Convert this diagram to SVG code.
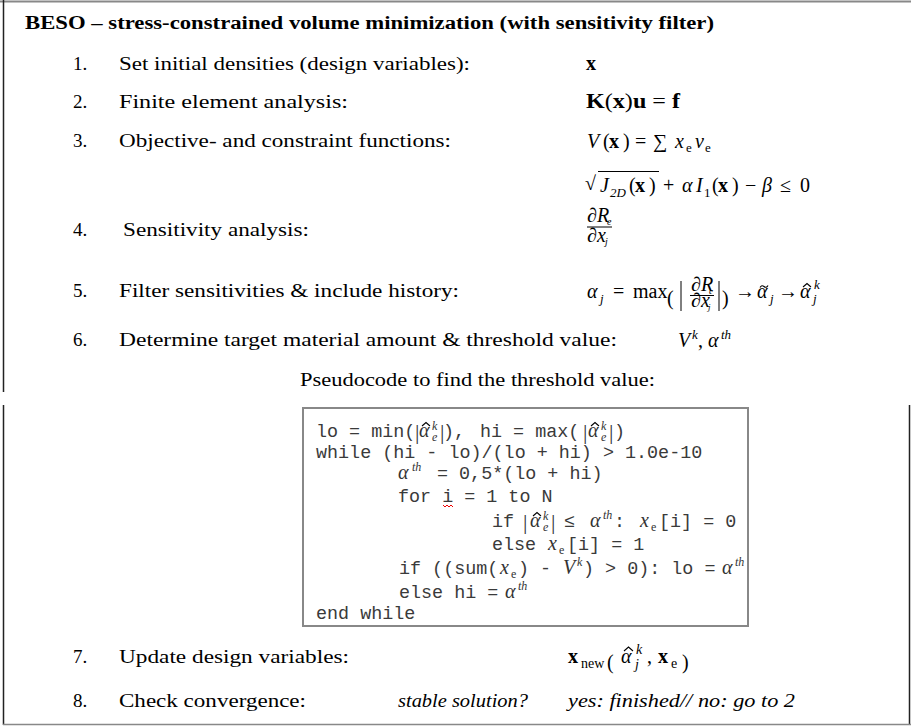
<svg xmlns="http://www.w3.org/2000/svg" width="911" height="727" viewBox="0 0 911 727">
<defs>
<style>
.t{font-family:"Liberation Serif",serif;font-size:19px;fill:#000}
.tb{font-family:"Liberation Serif",serif;font-size:18px;font-weight:bold;fill:#000}
.ti{font-family:"Liberation Serif",serif;font-size:19px;font-style:italic;fill:#000}
.m{font-family:"Liberation Serif","DejaVu Serif",serif;font-size:20px;fill:#000}
.mi{font-style:italic}
.bf{font-weight:bold}
.sub{font-size:13px}
.c{font-family:"Liberation Mono",monospace;font-size:18.4px;fill:#3a3a3a}
.cm{font-family:"Liberation Serif","DejaVu Serif",serif;font-size:20px;fill:#333}
.csub{font-size:12px}
.ln{stroke:#000;stroke-width:1}
.acc{fill:none;stroke:#000;stroke-width:1.1;stroke-linejoin:miter}
</style>
</defs>
<g id="frame" fill="none">
<line x1="0" y1="1.5" x2="911" y2="1.5" stroke="#888" stroke-width="2"/>
<line x1="3.5" y1="0" x2="3.5" y2="392" stroke="#222" stroke-width="1.5"/>
<line x1="3.5" y1="405" x2="3.5" y2="725" stroke="#222" stroke-width="1.5"/>
<line x1="909.5" y1="405" x2="909.5" y2="725" stroke="#222" stroke-width="1.5"/>
<line x1="3" y1="724.5" x2="911" y2="724.5" stroke="#888" stroke-width="1.5"/>
</g>
<g id="title">
<text class="tb" x="25" y="29" textLength="689" lengthAdjust="spacingAndGlyphs">BESO – stress-constrained volume minimization (with sensitivity filter)</text>
</g>
<g id="step1">
<text class="t" x="73" y="70">1.</text>
<text class="t" x="119" y="70" textLength="351" lengthAdjust="spacingAndGlyphs">Set initial densities (design variables):</text>
<text class="m bf" x="586" y="70">x</text>
</g>
<g id="step2">
<text class="t" x="73" y="108">2.</text>
<text class="t" x="119" y="108" textLength="229" lengthAdjust="spacingAndGlyphs">Finite element analysis:</text>
<text class="m" x="586" y="108" textLength="94" lengthAdjust="spacingAndGlyphs"><tspan class="bf">K</tspan>(<tspan class="bf">x</tspan>)<tspan class="bf">u</tspan> = <tspan class="bf">f</tspan></text>
</g>
<g id="step3">
<text class="t" x="73" y="147">3.</text>
<text class="t" x="119" y="147" textLength="332" lengthAdjust="spacingAndGlyphs">Objective- and constraint functions:</text>
<text class="m"><tspan class="mi" x="587" y="148">V</tspan><tspan x="603">(</tspan><tspan class="bf" x="609">x</tspan><tspan x="623">)</tspan><tspan x="635">=</tspan><tspan x="653">∑</tspan><tspan class="mi" x="675">x</tspan><tspan class="sub" x="686" y="152">e</tspan><tspan class="mi" x="695" y="148">v</tspan><tspan class="sub" x="705" y="152">e</tspan></text>
<text class="m" x="585" y="190" font-size="28">√</text>
<line class="ln" x1="598" y1="171.5" x2="659" y2="171.5"/>
<text class="m"><tspan class="mi" x="600" y="192">J</tspan><tspan class="sub mi" x="610" y="197">2D</tspan><tspan x="629" y="192">(</tspan><tspan class="bf" x="635">x</tspan><tspan x="649">)</tspan><tspan x="663">+</tspan><tspan class="mi" x="682">α</tspan><tspan class="mi" x="696">I</tspan><tspan class="sub" x="704" y="197">1</tspan><tspan x="712" y="192">(</tspan><tspan class="bf" x="718">x</tspan><tspan x="732">)</tspan><tspan x="745">−</tspan><tspan class="mi" x="762">β</tspan><tspan x="780">≤</tspan><tspan x="800">0</tspan></text>
</g>
<g id="step4">
<text class="t" x="73" y="236">4.</text>
<text class="t" x="123" y="236" textLength="186" lengthAdjust="spacingAndGlyphs">Sensitivity analysis:</text>
<text class="m" font-size="14"><tspan class="mi" x="587" y="222">∂R</tspan><tspan class="mi" x="607" y="225" font-size="10">e</tspan></text>
<line class="ln" x1="587" y1="227" x2="612" y2="227"/>
<text class="m" font-size="14"><tspan class="mi" x="587" y="242">∂x</tspan><tspan class="mi" x="605" y="245" font-size="10">j</tspan></text>
</g>
<g id="step5">
<text class="t" x="73" y="297">5.</text>
<text class="t" x="119" y="297" textLength="340" lengthAdjust="spacingAndGlyphs">Filter sensitivities &amp; include history:</text>
<text class="m"><tspan class="mi" x="587" y="298">α</tspan><tspan class="sub mi" x="600" y="303">j</tspan><tspan x="613" y="298">=</tspan><tspan x="633">max</tspan></text>
<text class="m" x="667" y="305" font-size="36">(</text>
<line class="ln" x1="681" y1="281" x2="681" y2="311" stroke-width="1.3"/>
<text class="m" font-size="13"><tspan class="mi" x="691" y="291">∂R</tspan><tspan class="mi" x="709" y="294" font-size="9">e</tspan></text>
<line class="ln" x1="690" y1="295.5" x2="714" y2="295.5"/>
<text class="m" font-size="13"><tspan class="mi" x="691" y="307">∂x</tspan><tspan class="mi" x="708" y="310" font-size="9">j</tspan></text>
<line class="ln" x1="719" y1="281" x2="719" y2="311" stroke-width="1.3"/>
<text class="m" x="722" y="305" font-size="36">)</text>
<text class="m"><tspan x="735" y="298">→</tspan><tspan class="mi" x="757">α</tspan><tspan class="sub mi" x="770" y="303">j</tspan><tspan x="778" y="298">→</tspan><tspan class="mi" x="800">α</tspan><tspan class="sub mi" x="813" y="303">j</tspan><tspan class="sub mi" x="814" y="289">k</tspan></text>
<path class="acc" d="M760 287.5 c1.2 -2.2 2.6 -2.2 4 -1 s2.8 1.2 4 -1"/>
<path class="acc" d="M803 287 l4 -3.5 l4 3.5"/>
</g>
<g id="step6">
<text class="t" x="73" y="346">6.</text>
<text class="t" x="119" y="346" textLength="498" lengthAdjust="spacingAndGlyphs">Determine target material amount &amp; threshold value:</text>
<text class="m"><tspan class="mi" x="678" y="347">V</tspan><tspan class="sub mi" x="692" y="339">k</tspan><tspan x="698" y="347">,</tspan><tspan class="mi" x="708">α</tspan><tspan class="sub mi" x="721" y="339">th</tspan></text>
<text class="t" x="300" y="386" textLength="355" lengthAdjust="spacingAndGlyphs">Pseudocode to find the threshold value:</text>
</g>
<g id="pseudocode">
<rect x="303" y="408" width="445" height="218" fill="none" stroke="#888" stroke-width="2"/>
<text class="c" x="316" y="437">lo = min(</text>
<text class="cm"><tspan x="415" y="439" font-size="22">|</tspan><tspan class="mi" x="419" y="437">α</tspan><tspan class="mi csub" x="432" y="441">e</tspan><tspan class="mi csub" x="432" y="430">k</tspan><tspan x="440" y="439" font-size="22">|</tspan></text>
<path class="acc" d="M422 426 l4 -3.5 l4 3.5" stroke="#333"/>
<text class="c" x="443" y="437">),</text>
<text class="c" x="480" y="437">hi = max(</text>
<text class="cm"><tspan x="583" y="439" font-size="22">|</tspan><tspan class="mi" x="588" y="437">α</tspan><tspan class="mi csub" x="601" y="441">e</tspan><tspan class="mi csub" x="601" y="430">k</tspan><tspan x="609" y="439" font-size="22">|</tspan></text>
<path class="acc" d="M591 426 l4 -3.5 l4 3.5" stroke="#333"/>
<text class="c" x="614" y="437">)</text>
<text class="c" x="316" y="458">while (hi - lo)/(lo + hi) &gt; 1.0e-10</text>
<text class="cm"><tspan class="mi" x="398" y="479">α</tspan><tspan class="mi csub" x="412" y="471">th</tspan></text>
<text class="c" x="437" y="479">= 0,5*(lo + hi)</text>
<text class="c" x="398" y="502">for i = 1 to N</text>
<path d="M443 505 l2 2 l2 -2 l2 2 l2 -2 l2 2" fill="none" stroke="#e00" stroke-width="1"/>
<text class="c" x="492" y="527">if</text>
<text class="cm"><tspan x="523" y="529" font-size="22">|</tspan><tspan class="mi" x="530" y="527">α</tspan><tspan class="mi csub" x="543" y="531">e</tspan><tspan class="mi csub" x="543" y="520">k</tspan><tspan x="551" y="529" font-size="22">|</tspan></text>
<path class="acc" d="M533 516 l4 -3.5 l4 3.5" stroke="#333"/>
<text class="c" x="564" y="527">≤</text>
<text class="cm"><tspan class="mi" x="590" y="527">α</tspan><tspan class="mi csub" x="603" y="519">th</tspan></text>
<text class="c" x="614" y="527">:</text>
<text class="cm"><tspan class="mi" x="640" y="527">x</tspan><tspan class="csub" x="651" y="531">e</tspan></text>
<text class="c" x="659" y="527">[i] = 0</text>
<text class="c" x="492" y="550">else</text>
<text class="cm"><tspan class="mi" x="548" y="550">x</tspan><tspan class="csub" x="559" y="554">e</tspan></text>
<text class="c" x="567" y="550">[i] = 1</text>
<text class="c" x="399" y="574">if ((sum(</text>
<text class="cm"><tspan class="mi" x="500" y="574">x</tspan><tspan class="csub" x="511" y="578">e</tspan></text>
<text class="c" x="518" y="574">) -</text>
<text class="cm"><tspan class="mi" x="563" y="574">V</tspan><tspan class="mi csub" x="577" y="566">k</tspan></text>
<text class="c" x="583" y="574">) &gt; 0): lo =</text>
<text class="cm"><tspan class="mi" x="722" y="574">α</tspan><tspan class="mi csub" x="735" y="566">th</tspan></text>
<text class="c" x="399" y="598">else hi =</text>
<text class="cm"><tspan class="mi" x="505" y="598">α</tspan><tspan class="mi csub" x="518" y="590">th</tspan></text>
<text class="c" x="316" y="619">end while</text>
</g>
<g id="step7">
<text class="t" x="73" y="663">7.</text>
<text class="t" x="119" y="663" textLength="230" lengthAdjust="spacingAndGlyphs">Update design variables:</text>
<text class="m" font-size="22"><tspan class="bf" x="568" y="663">x</tspan><tspan x="581" y="668" font-size="14">new</tspan></text>
<text class="m" x="607" y="669" font-size="32">(</text>
<text class="m" font-size="22"><tspan class="mi" x="621" y="663">α</tspan><tspan class="mi" x="635" y="669" font-size="14">j</tspan><tspan class="mi" x="636" y="654" font-size="14">k</tspan><tspan x="647" y="663">,</tspan><tspan class="bf" x="658">x</tspan><tspan x="671" y="668" font-size="14">e</tspan></text>
<path class="acc" d="M624 651 l4.5 -4 l4.5 4"/>
<text class="m" x="682" y="669" font-size="32">)</text>
</g>
<g id="step8">
<text class="t" x="73" y="707">8.</text>
<text class="t" x="119" y="707" textLength="187" lengthAdjust="spacingAndGlyphs">Check convergence:</text>
<text class="ti" x="398" y="707" textLength="130" lengthAdjust="spacingAndGlyphs">stable solution?</text>
<text class="ti" x="568" y="707" textLength="227" lengthAdjust="spacingAndGlyphs">yes: finished// no: go to 2</text>
</g>
</svg>
